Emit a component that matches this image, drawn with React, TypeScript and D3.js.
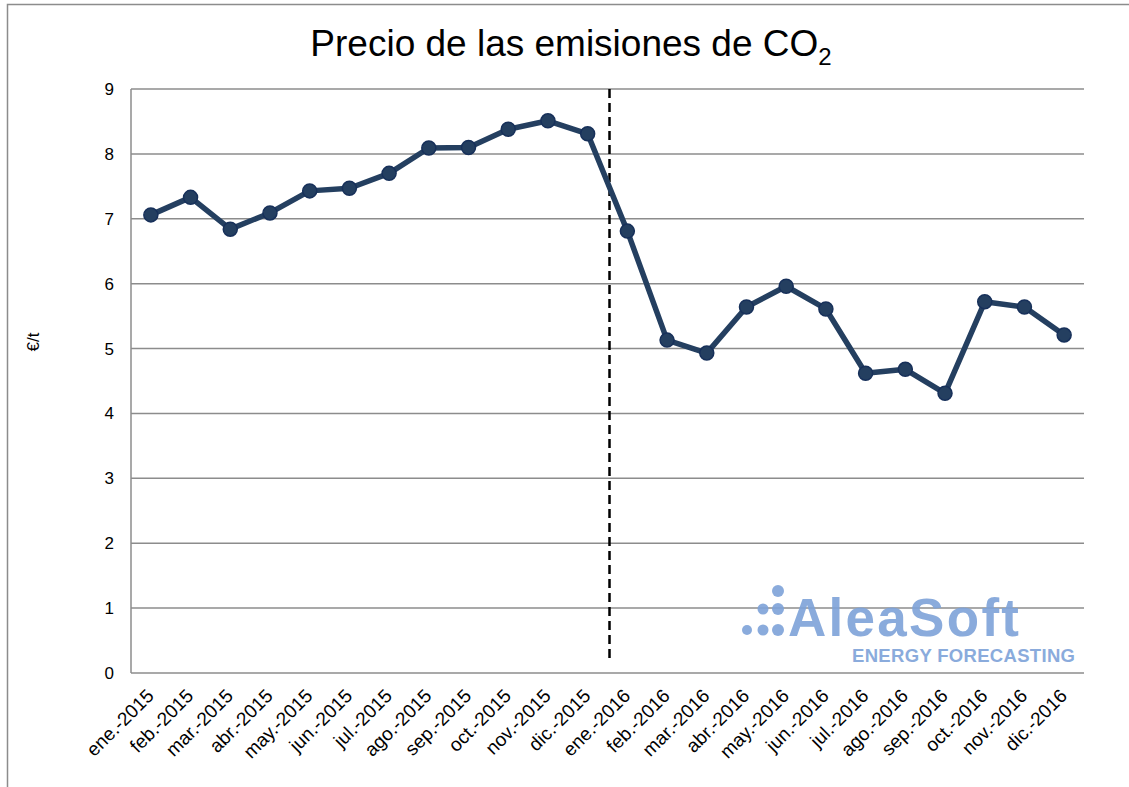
import React, { useEffect, useRef } from "react";
import * as d3 from "d3";

const months = [
  "ene.-2015", "feb.-2015", "mar.-2015", "abr.-2015", "may.-2015", "jun.-2015",
  "jul.-2015", "ago.-2015", "sep.-2015", "oct.-2015", "nov.-2015", "dic.-2015",
  "ene.-2016", "feb.-2016", "mar.-2016", "abr.-2016", "may.-2016", "jun.-2016",
  "jul.-2016", "ago.-2016", "sep.-2016", "oct.-2016", "nov.-2016", "dic.-2016",
];

const prices = [
  7.06, 7.33, 6.84, 7.09, 7.43, 7.47, 7.7, 8.09, 8.1, 8.38, 8.51, 8.31,
  6.81, 5.13, 4.93, 5.64, 5.96, 5.61, 4.62, 4.68, 4.31, 5.72, 5.64, 5.21,
];

const yTicks = [0, 1, 2, 3, 4, 5, 6, 7, 8, 9];

const W = 1129;
const H = 787;
const MARGIN = { top: 89, right: 45, bottom: 114, left: 131 };
const FONT = "'Liberation Sans', Arial, sans-serif";

const Chart = () => {
  const ref = useRef<SVGGElement | null>(null);
  const boundsWidth = W - MARGIN.left - MARGIN.right;
  const boundsHeight = H - MARGIN.top - MARGIN.bottom;

  const xScale = d3.scaleBand().domain(months).range([0, boundsWidth]);
  const yScale = d3.scaleLinear().domain([0, 9]).range([boundsHeight, 0]);

  useEffect(() => {
    const g = d3.select(ref.current);
    g.selectAll("*").remove();

    // grid
    g.append("g")
      .selectAll("line")
      .data(yTicks)
      .join("line")
      .attr("x1", 0)
      .attr("x2", boundsWidth)
      .attr("y1", (d) => yScale(d))
      .attr("y2", (d) => yScale(d))
      .attr("stroke", "#8c8c8c")
      .attr("stroke-width", 1.5);

    g.append("line")
      .attr("x1", 0)
      .attr("x2", 0)
      .attr("y1", 0)
      .attr("y2", boundsHeight)
      .attr("stroke", "#8c8c8c")
      .attr("stroke-width", 1.5);

    // y labels
    g.append("g")
      .selectAll("text")
      .data(yTicks)
      .join("text")
      .attr("x", -17)
      .attr("y", (d) => yScale(d) + 6)
      .attr("text-anchor", "end")
      .attr("font-family", FONT)
      .attr("font-size", 17)
      .text((d) => d);

    // x labels
    const bw = xScale.bandwidth();
    g.append("g")
      .selectAll("text")
      .data(months)
      .join("text")
      .attr("transform", (d) => `translate(${(xScale(d) ?? 0) + bw / 2 + 4},${boundsHeight + 24}) rotate(-45)`)
      .attr("text-anchor", "end")
      .attr("font-family", FONT)
      .attr("font-size", 19)
      .text((d) => d);

    // separator between years
    const sepX = xScale("ene.-2016") ?? 0;
    g.append("line")
      .attr("x1", sepX + 2)
      .attr("x2", sepX + 2)
      .attr("y1", 0)
      .attr("y2", boundsHeight - 12)
      .attr("stroke", "#000")
      .attr("stroke-width", 2.5)
      .attr("stroke-dasharray", "9,5");

    // watermark
    const wm = g.append("g").attr("fill", "#7ea3d9").attr("opacity", 0.9);
    const dots: [number, number, number][] = [
      [778, 591, 6], [763, 609, 5.5], [778, 609, 6], [747, 630, 5], [763, 630, 5.5], [778, 630, 6],
    ];
    wm.selectAll("circle")
      .data(dots)
      .join("circle")
      .attr("cx", (d) => d[0] - MARGIN.left)
      .attr("cy", (d) => d[1] - MARGIN.top)
      .attr("r", (d) => d[2]);
    wm.append("text")
      .attr("x", 788 - MARGIN.left)
      .attr("y", 636 - MARGIN.top)
      .attr("font-family", FONT)
      .attr("font-weight", "bold")
      .attr("font-size", 53)
      .attr("textLength", 231)
      .text("AleaSoft");
    wm.append("text")
      .attr("x", 852 - MARGIN.left)
      .attr("y", 662 - MARGIN.top)
      .attr("font-family", FONT)
      .attr("font-weight", "bold")
      .attr("font-size", 18.5)
      .attr("textLength", 223)
      .text("ENERGY FORECASTING");

    // line
    const line = d3
      .line<number>()
      .x((_, i) => (xScale(months[i]) ?? 0) + bw / 2)
      .y((d) => yScale(d));
    g.append("path")
      .datum(prices)
      .attr("d", line)
      .attr("fill", "none")
      .attr("stroke", "#243f60")
      .attr("stroke-width", 5.5)
      .attr("stroke-linejoin", "round");

    g.append("g")
      .selectAll("circle")
      .data(prices)
      .join("circle")
      .attr("cx", (_, i) => (xScale(months[i]) ?? 0) + bw / 2)
      .attr("cy", (d) => yScale(d))
      .attr("r", 7)
      .attr("fill", "#243f60")
      .attr("stroke", "#17305a")
      .attr("stroke-width", 1.5);
  }, []);

  return (
    <svg width={W} height={H} style={{ position: "absolute", left: 0, top: 0, background: "#fff" }}>
      <rect x={7.5} y={4.5} width={W + 10} height={H + 10} fill="#fff" stroke="#8c8c8c" strokeWidth={1.5} />
      <text x={571} y={56} textAnchor="middle" fontFamily={FONT} fontSize={37}>
        Precio de las emisiones de CO
        <tspan fontSize={24} dy={9}>2</tspan>
      </text>
      <text transform="translate(39,342) rotate(-90)" textAnchor="middle" fontFamily={FONT} fontSize={17}>
        €/t
      </text>
      <g ref={ref} transform={`translate(${MARGIN.left},${MARGIN.top})`} />
    </svg>
  );
};

export default function App() {
  return <Chart />;
}
